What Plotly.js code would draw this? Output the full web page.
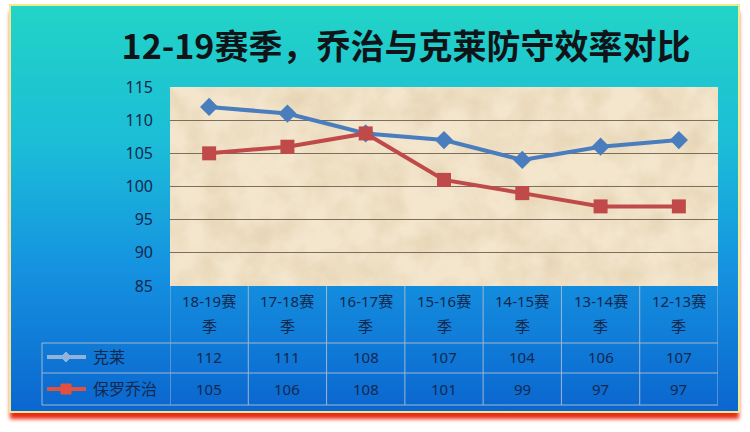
<!DOCTYPE html>
<html>
<head>
<meta charset="utf-8">
<script src="https://cdn.plot.ly/plotly-3.0.1.min.js"></script>
<style>
  html, body { margin: 0; padding: 0; background: #ffffff; }
  #frame {
    position: absolute; left: 9px; top: 4px; width: 727px; height: 405px;
    border: 2px solid #f1e98f;
    background: linear-gradient(to bottom, #22d4c6 0%, #1bbcd8 35%, #1592e0 65%, #0b66cf 100%);
    box-shadow: 0 7px 4px -1px #ea2a14;
  }
  #chart { position: absolute; left: 0; top: 0; width: 750px; height: 432px; }
</style>
</head>
<body>
<div id="frame"></div>
<div id="chart"></div>
<script>
// data
const seasons = ['18-19赛季', '17-18赛季', '16-17赛季', '15-16赛季', '14-15赛季', '13-14赛季', '12-13赛季'];
const klay = [112, 111, 108, 107, 104, 106, 107];
const george = [105, 106, 108, 101, 99, 97, 97];
const seriesNames = ['克莱', '保罗乔治'];
const yRange = [85, 115];
const chartTitle = '12-19赛季，乔治与克莱防守效率对比';

const W = 750, H = 432;
const px = x => x / W;
const py = y => 1 - y / H;

const BLUE = '#4a7dbd';
const RED = '#c0494a';
const INK = '#14284e';
const GRID = '#7d6d5c';
const CELL = '#9fb6cf';
const FONT = 'Noto Sans, Noto Sans CJK SC, sans-serif';

// plot area in pixels
const L = 170, R = 718, T = 87, B = 286;
const rowTop = 343, rowMid = 373, rowBot = 405, tableLeft = 42;

// parchment texture as an svg image behind the plot area
const tex = "<svg xmlns='http://www.w3.org/2000/svg' width='548' height='199'>" +
  "<filter id='f'><feTurbulence type='fractalNoise' baseFrequency='0.03' numOctaves='5' seed='7'/>" +
  "<feColorMatrix values='0 0 0 0 0.78  0 0 0 0 0.64  0 0 0 0 0.44  0 0 0 -1.6 1.05'/></filter>" +
  "<rect width='548' height='199' fill='#f3e6cd'/><rect width='548' height='199' filter='url(#f)'/></svg>";

const traces = [
  {
    x: seasons, y: klay, name: seriesNames[0], type: 'scatter', mode: 'lines+markers',
    line: { color: BLUE, width: 4 },
    marker: { symbol: 'diamond', size: 14, color: BLUE }
  },
  {
    x: seasons, y: george, name: seriesNames[1], type: 'scatter', mode: 'lines+markers',
    line: { color: RED, width: 4 },
    marker: { symbol: 'square', size: 14, color: RED }
  }
];

const shapes = [];
const annotations = [];

// table grid
const hLine = (y, x0) => ({ type: 'line', xref: 'paper', yref: 'paper',
  x0: px(x0), x1: px(R), y0: py(y), y1: py(y), line: { color: CELL, width: 1 } });
shapes.push(hLine(rowTop, tableLeft), hLine(rowMid, tableLeft), hLine(rowBot, tableLeft));
shapes.push({ type: 'line', xref: 'paper', yref: 'paper', x0: px(tableLeft), x1: px(tableLeft),
  y0: py(rowTop), y1: py(rowBot), line: { color: CELL, width: 1 } });
for (let i = 0; i <= seasons.length; i++) {
  shapes.push({ type: 'line', xref: 'x', yref: 'paper', x0: i - 0.5, x1: i - 0.5,
    y0: py(B), y1: py(rowBot), line: { color: CELL, width: 1 } });
}

// legend keys in the table
const keyY = [357, 389];
const keyCol = ['#93b2d8', '#e2513f'];
keyY.forEach((y, k) => {
  shapes.push({ type: 'line', xref: 'paper', yref: 'paper', x0: px(47), x1: px(86),
    y0: py(y), y1: py(y), line: { color: keyCol[k], width: 4 } });
  const s = 5;
  const path = k === 0
    ? `M${px(66 - s)},${py(y)} L${px(66)},${py(y - s)} L${px(66 + s)},${py(y)} L${px(66)},${py(y + s)} Z`
    : `M${px(66 - s)},${py(y - s)} L${px(66 + s)},${py(y - s)} L${px(66 + s)},${py(y + s)} L${px(66 - s)},${py(y + s)} Z`;
  shapes.push({ type: 'path', xref: 'paper', yref: 'paper', path: path,
    fillcolor: keyCol[k], line: { color: keyCol[k], width: 1 } });
  annotations.push({ xref: 'paper', yref: 'paper', x: px(91), y: py(y), xanchor: 'left', yanchor: 'middle',
    text: seriesNames[k], showarrow: false, font: { family: FONT, size: 16, color: INK } });
});

// category labels and values
seasons.forEach((s, i) => {
  annotations.push({ xref: 'x', yref: 'paper', x: i, y: py(301), yanchor: 'middle',
    text: s.slice(0, -1), showarrow: false, font: { family: FONT, size: 15, color: INK } });
  annotations.push({ xref: 'x', yref: 'paper', x: i, y: py(326), yanchor: 'middle',
    text: s.slice(-1), showarrow: false, font: { family: FONT, size: 15, color: INK } });
  annotations.push({ xref: 'x', yref: 'paper', x: i, y: py(keyY[0]), yanchor: 'middle',
    text: String(klay[i]), showarrow: false, font: { family: FONT, size: 15, color: INK } });
  annotations.push({ xref: 'x', yref: 'paper', x: i, y: py(keyY[1]), yanchor: 'middle',
    text: String(george[i]), showarrow: false, font: { family: FONT, size: 15, color: INK } });
});

const layout = {
  width: W, height: H,
  margin: { l: 0, r: 0, t: 0, b: 0 },
  paper_bgcolor: 'rgba(0,0,0,0)',
  plot_bgcolor: '#efe0c4',
  showlegend: false,
  title: {
    text: '<b>' + chartTitle + '</b>',
    x: px(406), xanchor: 'center', y: py(47), yanchor: 'middle',
    font: { family: 'Noto Sans CJK SC, sans-serif', size: 34, color: '#101418' }
  },
  xaxis: {
    domain: [px(L), px(R)], range: [-0.5, seasons.length - 0.5],
    type: 'category', showticklabels: false, showgrid: false, zeroline: false,
    showline: false, ticks: ''
  },
  yaxis: {
    domain: [py(B), py(T)], range: yRange, dtick: 5, tick0: 85,
    showgrid: true, gridcolor: GRID, gridwidth: 1, zeroline: false, showline: false,
    ticks: '', ticklabelstandoff: 16,
    tickfont: { family: FONT, size: 16, color: INK }
  },
  images: [{
    source: 'data:image/svg+xml;utf8,' + encodeURIComponent(tex),
    xref: 'paper', yref: 'paper', x: px(L), y: py(T), sizex: px(R) - px(L), sizey: py(T) - py(B),
    sizing: 'stretch', layer: 'below', xanchor: 'left', yanchor: 'top'
  }],
  shapes: shapes,
  annotations: annotations
};

Plotly.newPlot('chart', traces, layout, { displayModeBar: false, staticPlot: true });
</script>
</body>
</html>
